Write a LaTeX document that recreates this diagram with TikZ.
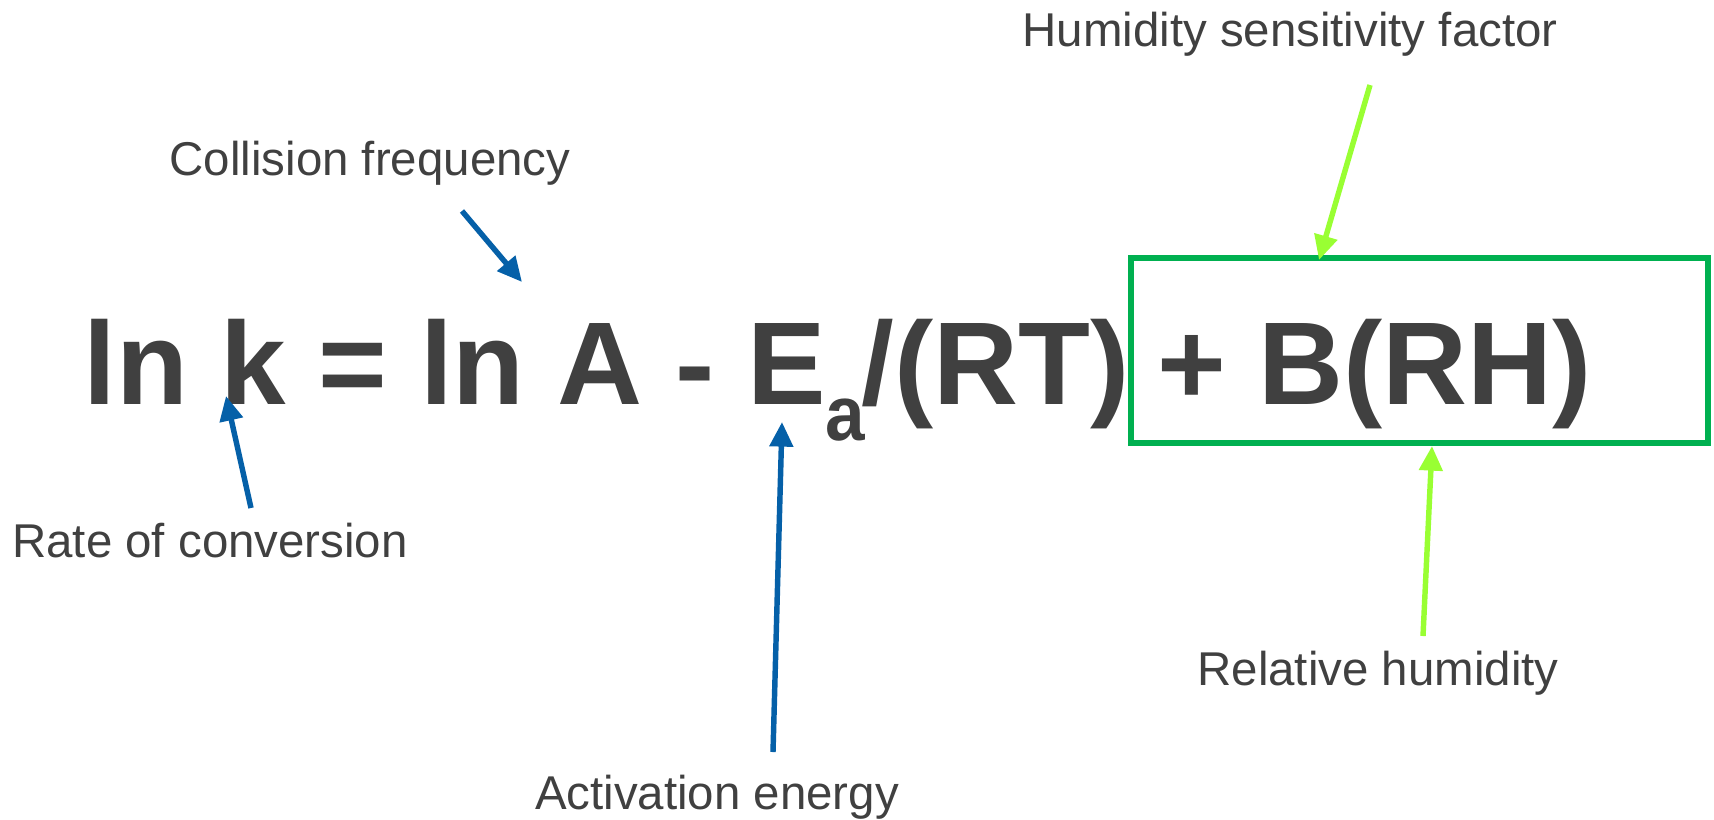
\documentclass[tikz,border=0pt]{standalone}
\usepackage{fontspec}
\setmainfont{Liberation Sans}
\usetikzlibrary{arrows.meta}
\definecolor{textgray}{HTML}{404040}
\definecolor{arrowblue}{HTML}{0560A8}
\definecolor{limegreen}{HTML}{99FF33}
\definecolor{boxgreen}{HTML}{00B050}

\begin{document}
\begin{tikzpicture}[x=0.02cm, y=-0.02cm,
    every node/.style={text=textgray, inner sep=0pt},
    lbl/.style={font=\fontsize{27}{32}\selectfont, anchor=base},
    eq/.style={font=\fontsize{67}{80}\selectfont\bfseries, anchor=base west},
    pointer/.style={line width=3.1pt, -{Triangle[length=14pt, width=13pt]}}]
    \useasboundingbox (0,0) rectangle (1714,819);
    %the box
    \node[draw=boxgreen, line width=3.4pt, minimum width=11.54cm, minimum height=3.7cm] (rhbox) at (1419.5, 350.5) {};
    %the equation
    \node[eq] (lhs) at (83, 404) {ln k = ln A - E\raisebox{-21pt}{\fontsize{44}{48}\selectfont\scalebox{0.92}[1]{a}}\kern-2pt/(RT)};
    \node[eq] (rhs) at (1157, 404) {+ B(RH)};
    %legends
    \node[lbl] (hsf) at (1290, 46) {Humidity sensitivity factor};
    \node[lbl] (cf) at (370, 175) {Collision frequency};
    \node[lbl] (roc) at (210, 557) {Rate of conversion};
    \node[lbl] (ae) at (717, 809) {Activation energy};
    \node[lbl] (rh) at (1378, 685) {Relative humidity};
    %ends of the arrows
    \coordinate (hsf-tail) at (1370, 85);  \coordinate (hsf-tip) at (1319, 260);
    \coordinate (rh-tail) at (1423, 636);  \coordinate (rh-tip) at (1432, 446);
    \coordinate (cf-tail) at (462, 211);   \coordinate (cf-tip) at (522, 282);
    \coordinate (roc-tail) at (251, 508);  \coordinate (roc-tip) at (226, 396);
    \coordinate (ae-tail) at (773, 752);   \coordinate (ae-tip) at (782, 422);
    %the arrows
    \draw[pointer, arrowblue] (cf-tail) -- (cf-tip);
    \draw[pointer, arrowblue] (roc-tail) -- (roc-tip);
    \draw[pointer, arrowblue] (ae-tail) -- (ae-tip);
    \draw[pointer, limegreen] (hsf-tail) -- (hsf-tip);
    \draw[pointer, limegreen] (rh-tail) -- (rh-tip);
\end{tikzpicture}
\end{document}
